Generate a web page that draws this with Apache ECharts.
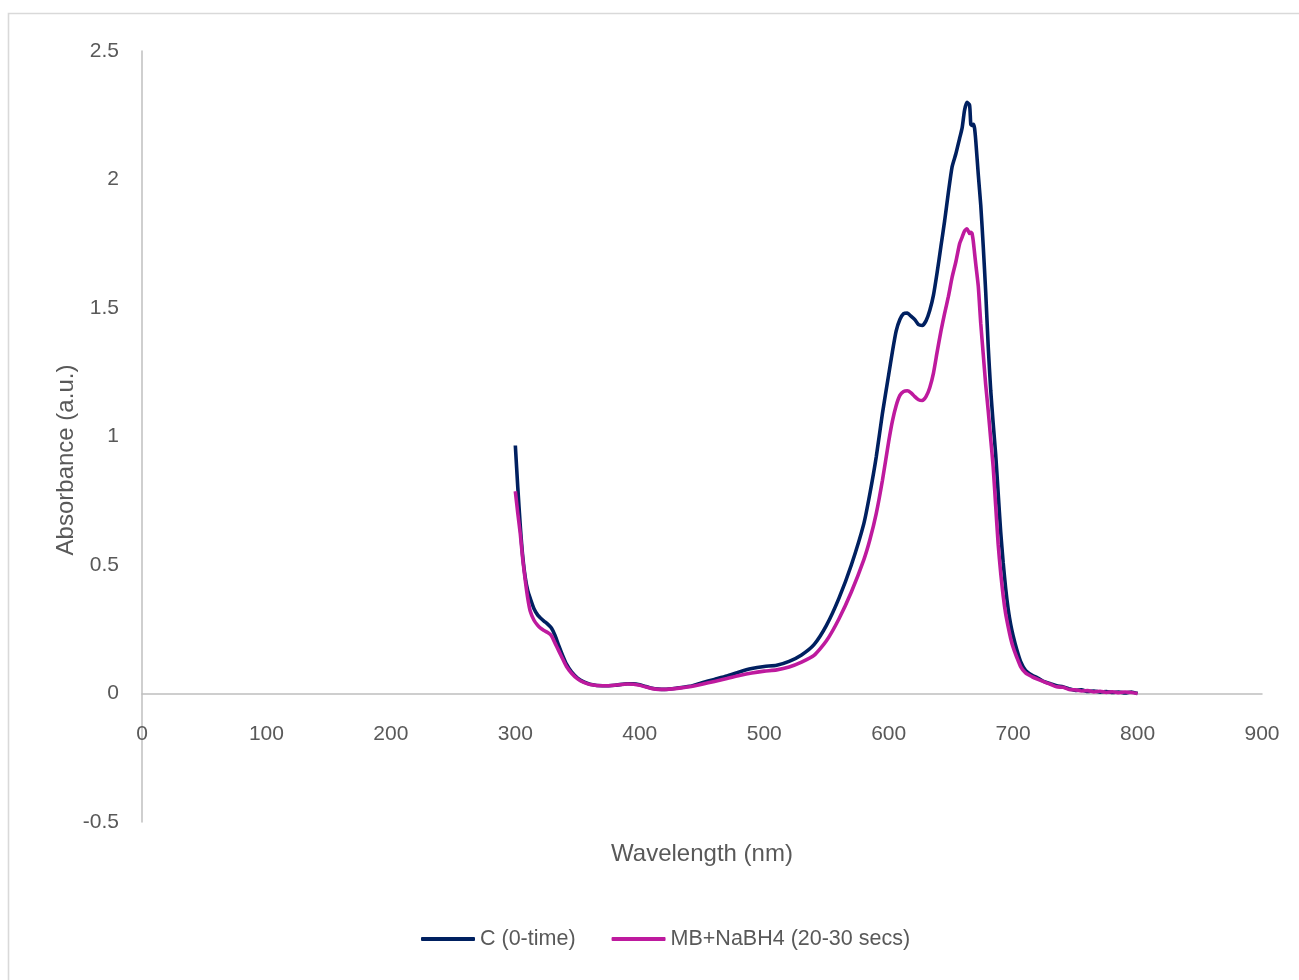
<!DOCTYPE html>
<html>
<head>
<meta charset="utf-8">
<script src="https://cdn.jsdelivr.net/npm/echarts@6/dist/echarts.min.js"></script>
<style>
html,body{margin:0;padding:0;background:#fff;}
#chart{width:1299px;height:980px;}
</style>
</head>
<body>
<div id="chart"></div>
<script>
// Wavelength grid (nm)
const wavelength = [300,302,304,306,308,310,312,315,318,320,323,326,329,332,335,338,341,345,350,355,360,370,380,390,395,400,405,410,415,420,430,440,450,460,470,480,490,500,510,520,530,540,550,560,570,580,585,590,595,600,603,606,609,612,615,618,621,624,627,630,633,636,639,642,645,648,651,654,657,659,661,663,665,666,667,668,669,670,672,674,676,678,680,682,684,686,688,690,692,694,696,698,700,703,706,710,715,720,725,730,735,740,745,750,755,760,765,770,775,780,785,790,795,800];

// C (0-time)
const absC = [0.965,0.80,0.65,0.53,0.45,0.40,0.37,0.33,0.305,0.295,0.282,0.27,0.255,0.225,0.185,0.148,0.115,0.085,0.060,0.045,0.036,0.030,0.032,0.038,0.038,0.034,0.027,0.020,0.017,0.016,0.021,0.028,0.042,0.055,0.068,0.084,0.097,0.105,0.110,0.125,0.150,0.190,0.265,0.37,0.50,0.66,0.78,0.92,1.09,1.24,1.33,1.41,1.455,1.478,1.48,1.468,1.455,1.435,1.432,1.45,1.49,1.55,1.64,1.74,1.84,1.95,2.05,2.10,2.16,2.20,2.27,2.30,2.29,2.215,2.21,2.215,2.20,2.15,2.02,1.90,1.74,1.56,1.35,1.18,1.05,0.93,0.78,0.63,0.51,0.41,0.33,0.27,0.225,0.17,0.125,0.09,0.072,0.060,0.046,0.038,0.030,0.026,0.018,0.012,0.014,0.008,0.010,0.005,0.008,0.004,0.006,0.002,0.006,0.000];

// MB+NaBH4 (20-30 secs)
const absMB = [0.787,0.70,0.62,0.52,0.44,0.37,0.32,0.285,0.265,0.255,0.245,0.237,0.225,0.195,0.165,0.135,0.106,0.080,0.057,0.043,0.035,0.030,0.032,0.037,0.036,0.032,0.025,0.019,0.016,0.016,0.020,0.026,0.036,0.047,0.058,0.070,0.080,0.087,0.092,0.103,0.122,0.148,0.205,0.29,0.395,0.52,0.60,0.70,0.83,0.98,1.06,1.12,1.16,1.175,1.178,1.17,1.155,1.143,1.140,1.155,1.19,1.247,1.33,1.41,1.48,1.545,1.62,1.68,1.75,1.775,1.80,1.808,1.79,1.795,1.79,1.76,1.715,1.67,1.585,1.44,1.32,1.20,1.10,0.99,0.88,0.73,0.58,0.47,0.38,0.31,0.26,0.215,0.18,0.14,0.105,0.08,0.066,0.055,0.045,0.036,0.026,0.024,0.016,0.014,0.010,0.011,0.006,0.009,0.004,0.007,0.003,0.006,0.004,0.000];

const seriesNames = ['C (0-time)', 'MB+NaBH4 (20-30 secs)'];
const xTitle = 'Wavelength (nm)';
const yTitle = 'Absorbance (a.u.)';

const pairs = (ys) => wavelength.map((w, i) => [w, ys[i]]);

const chart = echarts.init(document.getElementById('chart'), null, {renderer: 'canvas'});
const textColor = '#595959';
const axisGray = '#BFBFBF';
const fontFam = '"Liberation Sans", Arial, sans-serif';

chart.setOption({
  animation: false,
  backgroundColor: '#ffffff',
  graphic: [{
    type: 'rect', silent: true,
    shape: {x: 8.5, y: 13.5, width: 1400, height: 1000},
    style: {fill: 'none', stroke: '#D9D9D9', lineWidth: 1.6}
  }, {
    type: 'text', x: 66, y: 460, rotation: Math.PI / 2, silent: true,
    style: {text: yTitle, fill: textColor, font: '24px "Liberation Sans", Arial, sans-serif', align: 'center', verticalAlign: 'middle'}
  }],
  grid: {left: 142, right: 37, top: 51, bottom: 158, containLabel: false, outerBoundsMode: 'none'},
  legend: {
    left: 416, top: 923,
    itemWidth: 54, itemHeight: 4, itemGap: 36,
    icon: 'roundRect',
    textStyle: {color: textColor, fontSize: 21.5, fontFamily: fontFam},
    data: seriesNames
  },
  xAxis: {
    type: 'value', min: 0, max: 900, interval: 100,
    name: xTitle, nameLocation: 'middle', nameGap: 20,
    nameTextStyle: {color: textColor, fontSize: 24, fontFamily: fontFam},
    axisLine: {show: true, onZero: true, lineStyle: {color: axisGray, width: 1.5}},
    axisTick: {show: false},
    splitLine: {show: false},
    axisLabel: {color: textColor, fontSize: 21, fontFamily: fontFam, margin: -98}
  },
  yAxis: {
    type: 'value', min: -0.5, max: 2.5, interval: 0.5,
    axisLine: {show: true, lineStyle: {color: axisGray, width: 1.5}},
    axisTick: {show: false},
    splitLine: {show: false},
    axisLabel: {color: textColor, fontSize: 21, fontFamily: fontFam, margin: 23, padding: [4, 0, 0, 0]}
  },
  series: [
    {
      name: seriesNames[0], type: 'line', data: pairs(absC),
      showSymbol: false, symbol: 'none', smooth: 0.2,
      lineStyle: {color: '#002060', width: 3.6},
      itemStyle: {color: '#002060'}, z: 2
    },
    {
      name: seriesNames[1], type: 'line', data: pairs(absMB),
      showSymbol: false, symbol: 'none', smooth: 0.2,
      lineStyle: {color: '#BE1A9E', width: 3.6},
      itemStyle: {color: '#BE1A9E'}, z: 3
    }
  ]
});
</script>
</body>
</html>
